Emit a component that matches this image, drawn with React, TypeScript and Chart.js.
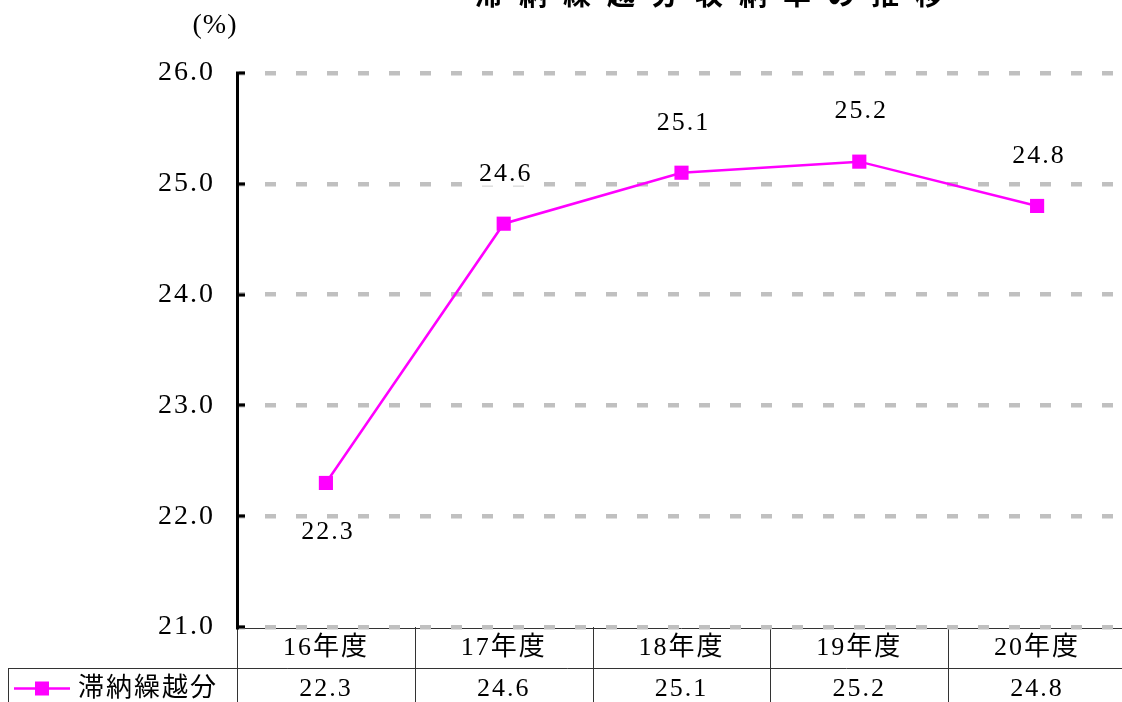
import { useEffect, useRef } from 'react';
import { Chart, registerables } from 'chart.js';

Chart.register(...registerables);

// ---- data ----
const TITLE = '滞納繰越分収納率の推移';
const UNIT_LABEL = '(%)';
const SERIES_NAME = '滞納繰越分';
const categories = ['16年度', '17年度', '18年度', '19年度', '20年度'];
const values = [22.3, 24.64, 25.1, 25.2, 24.8];
const labelPlacement = ['below', 'above', 'above', 'above', 'above'];
const Y_MIN = 21;
const Y_MAX = 26;
const Y_STEP = 1;

// ---- layout / style ----
const TOP = 40;
const CANVAS_W = 1136;
const CANVAS_H = 760;
const MAGENTA = '#ff00ff';
const GRID = '#c0c0c0';
const SERIF = '"Liberation Serif", "Noto Sans CJK JP", serif';
const ROW_H = 41;

const decor = {
  id: 'decor',
  beforeDraw(chart: any) {
    const { ctx, chartArea, scales } = chart;
    (ctx as any).letterSpacing = '2px';
    const x = scales.x;
    const n = categories.length;
    const colW = (chartArea.right - chartArea.left) / n;
    const r1top = chartArea.bottom;
    const r1bot = r1top + ROW_H;
    const r2bot = r1bot + ROW_H;
    ctx.save();
    ctx.strokeStyle = '#333';
    ctx.lineWidth = 1;
    const line = (x1: number, y1: number, x2: number, y2: number) => {
      ctx.beginPath();
      ctx.moveTo(x1, y1);
      ctx.lineTo(x2, y2);
      ctx.stroke();
    };
    line(chartArea.left, Math.round(r1top) + 1.5, chartArea.right, Math.round(r1top) + 1.5);
    line(8.5, Math.round(r1bot) + 0.5, chartArea.right, Math.round(r1bot) + 0.5);
    line(8.5, Math.round(r2bot) + 0.5, chartArea.right, Math.round(r2bot) + 0.5);
    for (let i = 0; i <= n; i++) {
      const xb = Math.round(chartArea.left + i * colW) + 0.5;
      line(xb, r1top, xb, r2bot);
    }
    line(8.5, r1bot, 8.5, r2bot);

    ctx.fillStyle = '#000';
    ctx.textAlign = 'center';
    ctx.textBaseline = 'middle';
    ctx.font = `26px ${SERIF}`;
    for (let i = 0; i < n; i++) {
      const cx = x.getPixelForValue(i);
      ctx.fillText(categories[i], cx, (r1top + r1bot) / 2 + 1);
      ctx.fillText(values[i].toFixed(1), cx, (r1bot + r2bot) / 2 + 1);
    }
    // legend key
    const ly = (r1bot + r2bot) / 2;
    ctx.strokeStyle = MAGENTA;
    ctx.lineWidth = 2.5;
    line(14, ly, 70, ly);
    ctx.fillStyle = MAGENTA;
    ctx.fillRect(35, ly - 7, 14, 14);
    ctx.fillStyle = '#000';
    ctx.textAlign = 'left';
    ctx.fillText(SERIES_NAME, 78, ly + 1);
    ctx.restore();
  },
  afterDatasetsDraw(chart: any) {
    const { ctx } = chart;
    const meta = chart.getDatasetMeta(0);
    ctx.save();
    (ctx as any).letterSpacing = '2px';
    ctx.font = `26px ${SERIF}`;
    ctx.textAlign = 'center';
    ctx.textBaseline = 'middle';
    meta.data.forEach((pt: any, i: number) => {
      const txt = values[i].toFixed(1);
      const ty = labelPlacement[i] === 'below' ? pt.y + 49 : pt.y - 50;
      const w = ctx.measureText(txt).width;
      ctx.fillStyle = '#fff';
      ctx.fillRect(pt.x - w / 2 - 2, ty - 12, w + 4, 24);
      ctx.fillStyle = '#000';
      ctx.fillText(txt, pt.x + 2, ty);
    });
    ctx.restore();
  },
  afterDraw(chart: any) {
    const { ctx, chartArea, scales } = chart;
    const y = scales.y;
    ctx.save();
    // inward tick marks
    ctx.strokeStyle = '#000';
    ctx.lineWidth = 3;
    y.ticks.forEach((t: any) => {
      const py = Math.round(y.getPixelForValue(t.value));
      ctx.beginPath();
      ctx.moveTo(chartArea.left - 1, py);
      ctx.lineTo(chartArea.left + 8, py);
      ctx.stroke();
    });
    // unit label
    (ctx as any).letterSpacing = '1px';
    ctx.fillStyle = '#000';
    ctx.font = `28px ${SERIF}`;
    ctx.textAlign = 'center';
    ctx.textBaseline = 'middle';
    ctx.fillText(UNIT_LABEL, chartArea.left - 22, chartArea.top - 47);
    // title
    (ctx as any).letterSpacing = '16px';
    ctx.font = `bold 28px "Noto Sans CJK JP", sans-serif`;
    ctx.textAlign = 'left';
    ctx.fillText(TITLE, chartArea.left + 238, TOP - 6);
    ctx.restore();
  },
};

export default function App() {
  const ref = useRef<HTMLCanvasElement>(null);
  useEffect(() => {
    const chart = new Chart(ref.current as HTMLCanvasElement, {
      type: 'line',
      data: {
        labels: categories,
        datasets: [
          {
            label: SERIES_NAME,
            data: values,
            borderColor: MAGENTA,
            backgroundColor: MAGENTA,
            borderWidth: 2.5,
            pointStyle: 'rect',
            pointRadius: 10,
            pointBackgroundColor: MAGENTA,
            pointBorderColor: MAGENTA,
            pointBorderWidth: 0,
            tension: 0,
            fill: false,
          },
        ],
      },
      options: {
        responsive: false,
        animation: false,
        devicePixelRatio: 1,
        layout: { padding: { top: 113, left: 0, right: 5, bottom: 93 } },
        plugins: {
          legend: { display: false },
          tooltip: { enabled: false },
          title: { display: false },
        },
        scales: {
          x: {
            type: 'category',
            offset: true,
            display: false,
          },
          y: {
            min: Y_MIN,
            max: Y_MAX,
            afterFit: (s: any) => {
              s.width = 237;
            },
            ticks: {
              stepSize: Y_STEP,
              color: '#000',
              padding: 22,
              font: { family: SERIF, size: 28 },
              callback: (v: any) => Number(v).toFixed(1),
            },
            grid: {
              color: GRID,
              lineWidth: 4.5,
              drawTicks: false,
            },
            border: {
              display: true,
              color: '#000',
              width: 3,
              dash: [11, 20],
              dashOffset: 5,
            },
          },
        },
      },
      plugins: [decor],
    } as any);
    return () => chart.destroy();
  }, []);
  return (
    <div
      style={{
        position: 'fixed',
        left: 0,
        top: 0,
        width: 1122,
        height: 702,
        overflow: 'hidden',
        background: '#fff',
      }}
    >
      <div style={{ position: 'absolute', left: 0, top: -TOP, width: CANVAS_W, height: CANVAS_H }}>
        <canvas ref={ref} width={CANVAS_W} height={CANVAS_H} style={{ display: 'block' }} />
      </div>
    </div>
  );
}
